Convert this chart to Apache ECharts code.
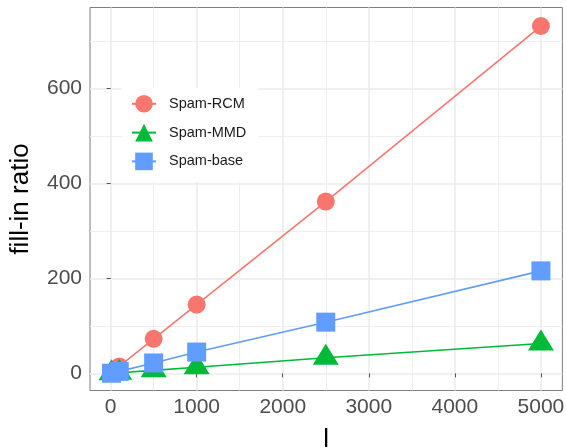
<!DOCTYPE html>
<html><head><meta charset="utf-8">
<script src="https://cdn.jsdelivr.net/npm/echarts@6/dist/echarts.min.js"></script>
<style>html,body{margin:0;padding:0;background:#fff}#c{width:566px;height:448px}</style>
</head><body><div id="c"></div>
<script>
const lValues = [10, 100, 500, 1000, 2500, 5000];
const rcm = [1.5, 14.6, 73, 145, 362, 732];
const mmd = [0.1, 1.3, 6.5, 13, 33, 63];
const base = [0.4, 4.3, 22, 45, 108, 216];
const seriesNames = ['Spam-RCM', 'Spam-MMD', 'Spam-base'];
const xMajorTicks = [0, 1000, 2000, 3000, 4000, 5000];
const xMinorTicks = [500, 1500, 2500, 3500, 4500];
const yMajorTicks = [0, 200, 400, 600];
const yMinorTicks = [100, 300, 500, 700];
const xRange = [-239.5, 5249.5];
const yRange = [-36, 771];

const FONT = '"Liberation Sans", Arial, Helvetica, sans-serif';
const colors = ['#F8766D', '#00BA38', '#619CFF'];
const pair = (ys) => lValues.map((x, i) => [x, ys[i]]);
const plain = (v) => String(v);

function majorAxis(range, ticks, extra) {
  return Object.assign({
    type: 'value', min: range[0], max: range[1], gridIndex: 0,
    axisLine: { show: false },
    axisTick: { show: true, customValues: ticks, length: 4, lineStyle: { color: '#555', width: 1 } },
    splitLine: { show: true, lineStyle: { color: '#EBEBEB', width: 1.5 } }
  }, extra);
}
function minorAxis(range, ticks, extra) {
  return Object.assign({
    type: 'value', min: range[0], max: range[1], gridIndex: 0,
    axisLine: { show: false },
    axisTick: { show: false, customValues: ticks },
    axisLabel: { show: false },
    splitLine: { show: true, lineStyle: { color: '#EEEEEE', width: 1.1 } }
  }, extra);
}

const symbols = ['circle', 'triangle', 'rect'];
const sizes = [18, [26, 21], 19];
const offsets = [[0, 0], [0, -3.5], [0, 0]];
const dataSets = [rcm, mmd, base];

const chart = echarts.init(document.getElementById('c'), null, { renderer: 'canvas' });
chart.setOption({
  animation: false,
  backgroundColor: '#fff',
  grid: { left: 90, top: 7.5, width: 472.4, height: 383, show: true, borderColor: '#7f7f7f', borderWidth: 1,
    backgroundColor: 'transparent', containLabel: false, outerBoundsMode: 'none' },
  xAxis: [
    majorAxis(xRange, xMajorTicks, { position: 'bottom', name: 'l', nameLocation: 'middle', nameGap: 36,
      nameTextStyle: { fontSize: 26, color: '#000', fontFamily: FONT },
      axisLabel: { show: true, customValues: xMajorTicks, formatter: plain, fontSize: 21, color: '#4D4D4D', fontFamily: FONT, margin: 6 } }),
    minorAxis(xRange, xMinorTicks, { position: 'top' })
  ],
  yAxis: [
    majorAxis(yRange, yMajorTicks, { position: 'left', name: 'fill-in ratio', nameLocation: 'middle', nameGap: 56,
      nameTextStyle: { fontSize: 26, color: '#000', fontFamily: FONT },
      axisLabel: { show: true, customValues: yMajorTicks, formatter: plain, fontSize: 21, color: '#4D4D4D', fontFamily: FONT, margin: 8 } }),
    minorAxis(yRange, yMinorTicks, { position: 'right' })
  ],
  legend: {
    orient: 'vertical', left: 122, top: 88,
    backgroundColor: '#fff',
    padding: [7, 12, 12, 9],
    itemWidth: 24, itemHeight: 22, itemGap: 11.2,
    textStyle: { fontSize: 14.5, color: '#1a1a1a', fontFamily: FONT, padding: [0, 0, 0, 8] },
    data: seriesNames
  },
  series: dataSets.map((d, i) => ({
    name: seriesNames[i], type: 'line', xAxisIndex: 0, yAxisIndex: 0,
    data: pair(d),
    symbol: symbols[i], symbolSize: sizes[i], symbolOffset: offsets[i],
    showSymbol: true,
    lineStyle: { color: colors[i], width: 1.6 },
    itemStyle: { color: colors[i], borderWidth: 0 },
    z: 2 + i
  }))
});
</script></body></html>
